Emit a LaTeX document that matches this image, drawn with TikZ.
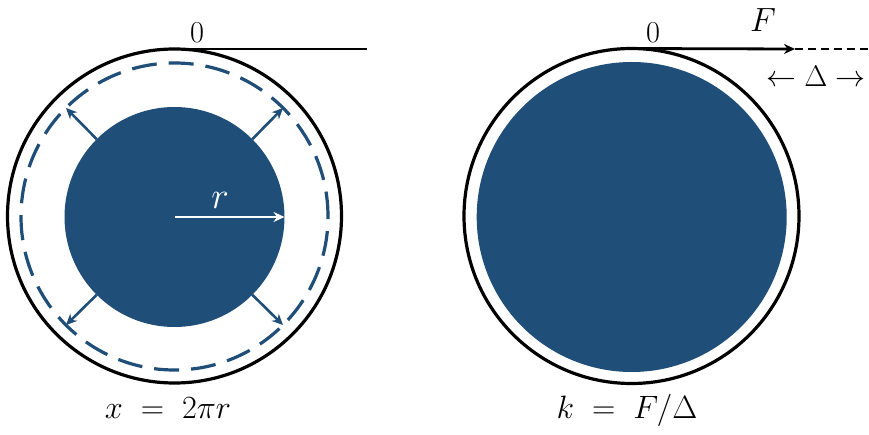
\documentclass[tikz,border=0pt]{standalone}
\usepackage{graphicx}
\usetikzlibrary{arrows.meta}
\definecolor{navy}{RGB}{31,78,121}
\newcommand{\biglab}[2]{\scalebox{#1}{\Huge #2}}
\begin{document}
\begin{tikzpicture}[x=1pt,y=-1pt,
  ring/.style={circle,draw=black,line width=3.2pt,fill=white,inner sep=0pt,outer sep=0pt},
  core/.style={circle,fill=navy,inner sep=0pt,outer sep=0pt},
  dashring/.style={circle,draw=navy,line width=3.2pt,dash pattern=on 25pt off 12pt,inner sep=0pt,outer sep=0pt},
  expand/.style={draw=navy,line width=2.6pt,-{Stealth[length=11pt,width=10pt]}},
  lbl/.style={inner sep=0pt,anchor=base},
  tline/.style={draw=black,line width=2.8pt}]
\useasboundingbox (0,0) rectangle (869,435);
% left
\node[ring,minimum size=334pt] (outerL) at (174.5,216) {};
\node[dashring,minimum size=307pt] (dashL) at (174.5,216.5) {};
\node[core,minimum size=220pt] (innerL) at (174.5,217) {};
\coordinate (endL) at (367,49);
\draw[tline] (outerL.north) -- (endL);
\foreach \a in {45,135,225,315}{
  \draw[expand] (innerL.\a) -- (dashL.\a);
}
\draw[white,line width=2.6pt,-{Stealth[length=11pt,width=10pt]}] (innerL.center) -- (innerL.east);
\node[lbl,text=white] (rlab) at (220,209) {\biglab{1.5}{$r$}};
\node[lbl] (zeroL) at (197,43) {\biglab{1.22}{$0$}};
\node[lbl] (xlab) at (168,418) {\biglab{1.3}{$x \;=\; 2\pi r$}};
% right
\node[ring,minimum size=335pt] (outerR) at (631.5,216) {};
\node[core,minimum size=310pt] (innerR) at (631.7,217) {};
\coordinate (tipR) at (795,49);
\coordinate (endR) at (869,49);
\draw[tline,-{Stealth[length=11pt,width=10pt]}] (outerR.north) -- (tipR);
\draw[tline,dash pattern=on 8pt off 5pt] (tipR) -- (endR);
\node[lbl] (zeroR) at (653,43) {\biglab{1.22}{$0$}};
\node[lbl] (Flab) at (763,32) {\biglab{1.35}{$F$}};
\node[lbl] (dlab) at (816,87) {\biglab{1.2}{$\leftarrow \Delta \rightarrow$}};
\node[lbl] (klab) at (627,418) {\biglab{1.3}{$k \;=\; F/\Delta$}};
\end{tikzpicture}
\end{document}
